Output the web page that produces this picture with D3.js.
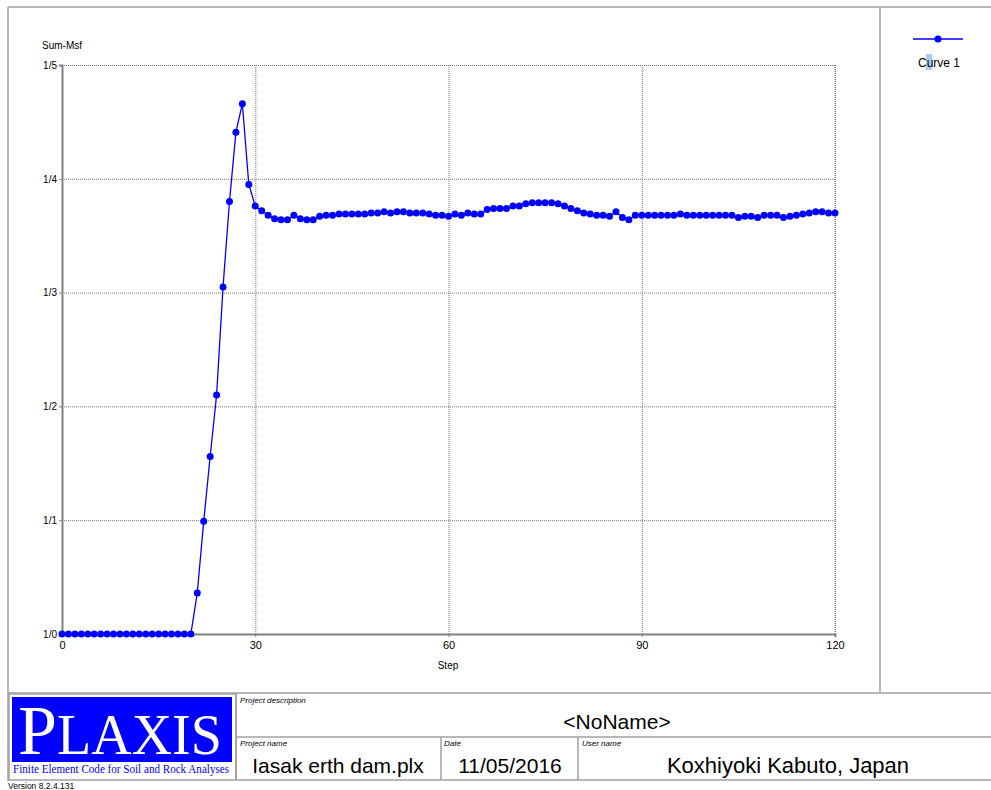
<!DOCTYPE html>
<html>
<head>
<meta charset="utf-8">
<script src="https://cdn.jsdelivr.net/npm/d3@7"></script>
<style>
  body { margin: 0; background: #fff; }
  text { font-family: Arial, "Liberation Sans", sans-serif; }
  text.serif { font-family: "Liberation Serif", "Times New Roman", serif; }
</style>
</head>
<body>
<div id="canvas"></div>
<script>
"use strict"

// data
let steps = d3.range(0, 121);
let sumMsf = [
  1.0, 1.0, 1.0, 1.0, 1.0, 1.0, 1.0, 1.0, 1.0, 1.0,
  1.0, 1.0, 1.0, 1.0, 1.0, 1.0, 1.0, 1.0, 1.0, 1.0,
  1.0, 1.036, 1.099, 1.156, 1.210, 1.305, 1.380, 1.441, 1.466, 1.395,
  1.376, 1.372, 1.368, 1.365, 1.364, 1.364, 1.368, 1.365, 1.364, 1.364,
  1.367, 1.368, 1.368, 1.369, 1.369, 1.369, 1.369, 1.369, 1.370, 1.370,
  1.371, 1.370, 1.371, 1.371, 1.370, 1.370, 1.370, 1.369, 1.368, 1.368,
  1.367, 1.369, 1.368, 1.370, 1.369, 1.369, 1.373, 1.374, 1.374, 1.374,
  1.376, 1.376, 1.378, 1.379, 1.379, 1.379, 1.379, 1.378, 1.376, 1.374,
  1.372, 1.370, 1.369, 1.368, 1.368, 1.367, 1.371, 1.366, 1.364, 1.368,
  1.368, 1.368, 1.368, 1.368, 1.368, 1.368, 1.369, 1.368, 1.368, 1.368,
  1.368, 1.368, 1.368, 1.368, 1.368, 1.366, 1.367, 1.367, 1.366, 1.368,
  1.368, 1.368, 1.366, 1.367, 1.368, 1.369, 1.370, 1.371, 1.371, 1.370,
  1.370
];
let xTicks = [0, 30, 60, 90, 120];
let yTicks = [1.0, 1.1, 1.2, 1.3, 1.4, 1.5];
let yTickLabels = ["1/0", "1/1", "1/2", "1/3", "1/4", "1/5"];

let drawingWidth = 991;
let drawingHeight = 790;
let blue = "#0000ff";
let frameColor = "#a0a0a0";

let drawing = d3.select("#canvas")
    .append("svg")
    .attr("width", drawingWidth)
    .attr("height", drawingHeight);

// outer frame
drawing.append("line").attr("x1", 8).attr("x2", 991).attr("y1", 7).attr("y2", 7)
    .attr("stroke", frameColor).attr("stroke-width", 1.5);
drawing.append("line").attr("x1", 8).attr("x2", 8).attr("y1", 7).attr("y2", 781)
    .attr("stroke", frameColor).attr("stroke-width", 1.5);
drawing.append("line").attr("x1", 880).attr("x2", 880).attr("y1", 7).attr("y2", 693)
    .attr("stroke", frameColor).attr("stroke-width", 1.5);
drawing.append("line").attr("x1", 8).attr("x2", 991).attr("y1", 693).attr("y2", 693)
    .attr("stroke", frameColor).attr("stroke-width", 1.5);

// plot scales
let x = d3.scaleLinear().domain([0, 120]).range([62, 835]);
let y = d3.scaleLinear().domain([1.0, 1.5]).range([634, 65]);

let gridX = drawing.append("g")
    .attr("transform", "translate(0,634)")
    .call(d3.axisBottom(x).tickValues(xTicks).tickSize(-569).tickFormat(""));
gridX.select(".domain").remove();
gridX.selectAll("line").attr("stroke", "#777").attr("stroke-dasharray", "1,1");

let gridY = drawing.append("g")
    .attr("transform", "translate(62,0)")
    .call(d3.axisLeft(y).tickValues(yTicks).tickSize(-773).tickFormat(""));
gridY.select(".domain").remove();
gridY.selectAll("line").attr("stroke", "#777").attr("stroke-dasharray", "1,1");

// right border dotted
drawing.append("line").attr("x1", 835).attr("x2", 835).attr("y1", 65).attr("y2", 634)
    .attr("stroke", "#777").attr("stroke-dasharray", "1,1");

// axes
let xAxis = drawing.append("g")
    .attr("transform", "translate(0,634)")
    .call(d3.axisBottom(x).tickValues(xTicks).tickSize(3).tickPadding(4));
xAxis.select(".domain").attr("stroke", "#808080").attr("stroke-width", 2);
xAxis.selectAll("line").attr("stroke", "#808080");
xAxis.selectAll("text").attr("font-size", 11).attr("fill", "#000");

let yAxis = drawing.append("g")
    .attr("transform", "translate(62,0)")
    .call(d3.axisLeft(y).tickValues(yTicks).tickSize(3).tickPadding(2)
        .tickFormat((d, i) => yTickLabels[i]));
yAxis.select(".domain").attr("stroke", "#808080").attr("stroke-width", 2);
yAxis.selectAll("line").attr("stroke", "#808080");
yAxis.selectAll("text").attr("font-size", 10).attr("fill", "#000");

drawing.append("text").attr("x", 42).attr("y", 49).attr("font-size", 10)
    .text("Sum-Msf");
drawing.append("text").attr("x", 448).attr("y", 669).attr("font-size", 10)
    .attr("text-anchor", "middle").text("Step");

// curve
let points = steps.map((s, i) => [s, sumMsf[i]]);
let line = d3.line().x(d => x(d[0])).y(d => y(d[1]));
drawing.append("path")
    .datum(points)
    .attr("d", line)
    .attr("fill", "none")
    .attr("stroke", blue)
    .attr("stroke-width", 1.3);
drawing.selectAll(".pt")
    .data(points)
    .enter().append("circle")
    .attr("class", "pt")
    .attr("cx", d => x(d[0]))
    .attr("cy", d => y(d[1]))
    .attr("r", 3.5)
    .attr("fill", blue);

// legend
drawing.append("line").attr("x1", 913).attr("x2", 963).attr("y1", 39).attr("y2", 39)
    .attr("stroke", blue).attr("stroke-width", 1.3);
drawing.append("circle").attr("cx", 938).attr("cy", 39).attr("r", 3.5).attr("fill", blue);
drawing.append("rect").attr("x", 926).attr("y", 54).attr("width", 6).attr("height", 16)
    .attr("fill", "#a8cdf0");
drawing.append("text").attr("x", 939).attr("y", 67).attr("font-size", 12)
    .attr("text-anchor", "middle").text("Curve 1");

// title block
drawing.append("rect").attr("x", 9).attr("y", 694).attr("width", 227).attr("height", 86)
    .attr("fill", "none").attr("stroke", frameColor).attr("stroke-width", 1.5);
drawing.append("rect").attr("x", 12).attr("y", 697).attr("width", 220).attr("height", 65)
    .attr("fill", blue);
let logo = drawing.append("text").attr("class", "serif")
    .attr("x", 120).attr("y", 754)
    .attr("text-anchor", "middle").attr("fill", "#fff");
logo.append("tspan").attr("font-size", 70).text("P");
logo.append("tspan").attr("font-size", 56).text("LAXIS");
drawing.append("text").attr("class", "serif").attr("x", 121).attr("y", 773)
    .attr("text-anchor", "middle").attr("fill", blue).attr("font-size", 11.5)
    .attr("textLength", 216).attr("lengthAdjust", "spacingAndGlyphs")
    .text("Finite Element Code for Soil and Rock Analyses");
drawing.append("text").attr("x", 8).attr("y", 789).attr("font-size", 8.5)
    .text("Version 8.2.4.131");

drawing.append("line").attr("x1", 236).attr("x2", 236).attr("y1", 693).attr("y2", 780)
    .attr("stroke", frameColor).attr("stroke-width", 1.5);
drawing.append("line").attr("x1", 236).attr("x2", 991).attr("y1", 737).attr("y2", 737)
    .attr("stroke", frameColor).attr("stroke-width", 1.5);
drawing.append("line").attr("x1", 236).attr("x2", 991).attr("y1", 780).attr("y2", 780)
    .attr("stroke", frameColor).attr("stroke-width", 1.5);
drawing.append("line").attr("x1", 441).attr("x2", 441).attr("y1", 737).attr("y2", 780)
    .attr("stroke", frameColor).attr("stroke-width", 1.5);
drawing.append("line").attr("x1", 578).attr("x2", 578).attr("y1", 737).attr("y2", 780)
    .attr("stroke", frameColor).attr("stroke-width", 1.5);

let small = [["Project description", 240, 703], ["Project name", 240, 746],
             ["Date", 444, 746], ["User name", 582, 746]];
small.forEach(s => {
  drawing.append("text").attr("x", s[1]).attr("y", s[2]).attr("font-size", 8)
      .attr("font-style", "italic").text(s[0]);
});

drawing.append("text").attr("x", 617).attr("y", 729).attr("font-size", 21)
    .attr("text-anchor", "middle").text("<NoName>");
drawing.append("text").attr("x", 338).attr("y", 773).attr("font-size", 21)
    .attr("text-anchor", "middle").text("Iasak erth dam.plx");
drawing.append("text").attr("x", 510).attr("y", 773).attr("font-size", 21)
    .attr("text-anchor", "middle").text("11/05/2016");
drawing.append("text").attr("x", 788).attr("y", 773).attr("font-size", 22)
    .attr("text-anchor", "middle").text("Koxhiyoki Kabuto, Japan");
</script>
</body>
</html>
